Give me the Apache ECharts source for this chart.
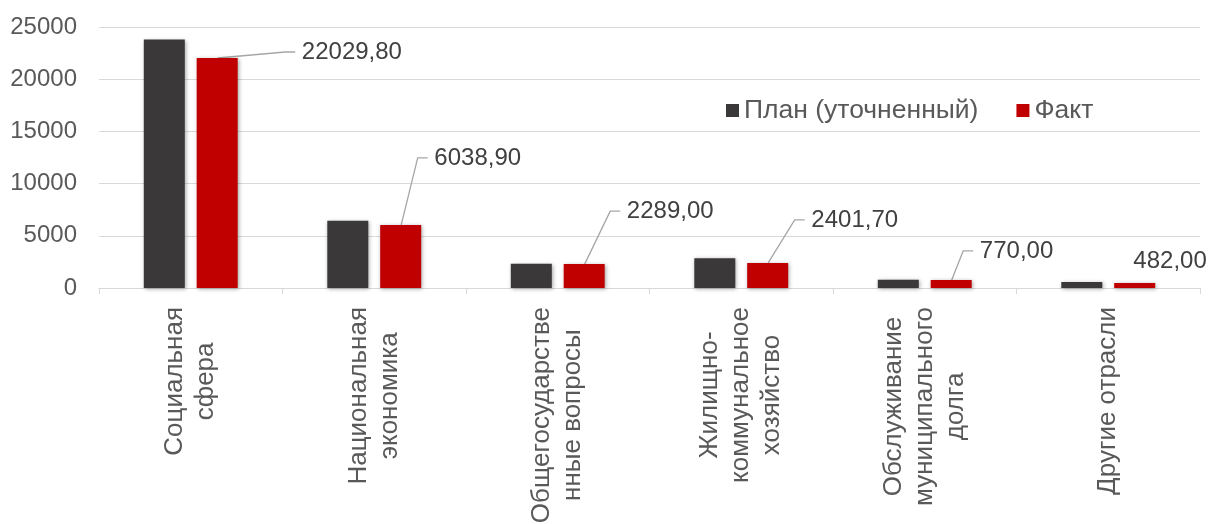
<!DOCTYPE html>
<html>
<head>
<meta charset="utf-8">
<script src="https://cdn.jsdelivr.net/npm/echarts@6/dist/echarts.min.js"></script>
<style>
  html, body { margin: 0; padding: 0; background: #ffffff; }
  #chart { width: 1208px; height: 524px; }
</style>
</head>
<body>
<div id="chart"></div>
<script>
const categories = [
  'Социальная\nсфера',
  'Национальная\nэкономика',
  'Общегосударстве\nнные вопросы',
  'Жилищно-\nкоммунальное\nхозяйство',
  'Обслуживание\nмуниципального\nдолга',
  'Другие отрасли'
];
const seriesNames = ['План (уточненный)', 'Факт'];
const planValues = [23800, 6450, 2320, 2850, 790, 580];
const factValues = [22029.8, 6038.9, 2289.0, 2401.7, 770.0, 482.0];
const yTicks = { min: 0, max: 25000, interval: 5000 };

const FONT = '"Liberation Sans", Arial, sans-serif';
const TEXT = '#595959';
// label box offsets relative to the top centre of each "Факт" bar (layout only)
const labelOffsets = [[78, -6], [27, -67], [36, -53], [37, -43], [22, -29], [-8, -22]];

const chart = echarts.init(document.getElementById('chart'), null, { renderer: 'canvas' });
const barShadow = { shadowBlur: 4, shadowColor: 'rgba(0,0,0,0.35)', shadowOffsetX: 1, shadowOffsetY: 1 };
const BAR_W = 41, BAR_GAP = '29%';

chart.setOption({
  animation: false,
  backgroundColor: '#ffffff',
  textStyle: { fontFamily: FONT },
  grid: { left: 99, right: 8, top: 27, bottom: 236, outerBoundsMode: 'none', containLabel: false },
  legend: {
    data: seriesNames,
    left: 721, top: 92,
    icon: 'rect', itemWidth: 13, itemHeight: 13, itemGap: 38,
    textStyle: { fontSize: 26.5, color: TEXT, fontFamily: FONT }
  },
  xAxis: [
    {
      type: 'category',
      data: categories,
      axisLine: { lineStyle: { color: '#D9D9D9', width: 1 } },
      axisTick: { show: true, length: 6, lineStyle: { color: '#D9D9D9' } },
      axisLabel: {
        interval: 0,
        rotate: 90,
        margin: 19,
        formatter: v => v.split('\n').map(s => '{c|' + s + '}').join('\n'),
        rich: { c: { align: 'center', fontSize: 26, lineHeight: 31, color: TEXT, fontFamily: FONT } }
      }
    },
    { type: 'category', data: categories, show: false }
  ],
  yAxis: {
    type: 'value',
    min: yTicks.min, max: yTicks.max, interval: yTicks.interval,
    axisLine: { show: false },
    axisTick: { show: false },
    axisLabel: { fontSize: 24, color: TEXT, margin: 22, fontFamily: FONT, formatter: v => String(v) },
    splitLine: { lineStyle: { color: '#D9D9D9', width: 1 } }
  },
  series: [
    {
      name: seriesNames[0],
      type: 'bar',
      data: planValues,
      barWidth: BAR_W,
      barGap: BAR_GAP,
      itemStyle: Object.assign({ color: '#3A3838' }, barShadow)
    },
    {
      name: seriesNames[1],
      type: 'bar',
      data: factValues,
      barWidth: BAR_W,
      barGap: BAR_GAP,
      itemStyle: Object.assign({ color: '#C00000' }, barShadow)
    },
    // transparent helper bars on a hidden copy of the category axis: they put the
    // "Факт" value labels' leader lines at the top centre of each red bar
    {
      name: 'helper-plan',
      type: 'bar',
      xAxisIndex: 1,
      data: planValues,
      barWidth: BAR_W,
      barGap: BAR_GAP,
      silent: true,
      itemStyle: { color: 'rgba(0,0,0,0)' }
    },
    {
      name: 'helper-fact',
      type: 'bar',
      xAxisIndex: 1,
      data: factValues.map((v, i) => ({ value: v, labelLine: { show: i < factValues.length - 1 } })),
      barWidth: 1,
      silent: true,
      itemStyle: { color: 'rgba(0,0,0,0)' },
      label: {
        show: true,
        position: 'top',
        fontSize: 24,
        color: '#404040',
        fontFamily: FONT,
        formatter: p => ' ' + p.value.toFixed(2).replace('.', ',')
      },
      labelLine: { show: true, length2: 10, lineStyle: { color: '#A6A6A6', width: 1.3 } },
      labelLayout: function (p) {
        const o = labelOffsets[p.dataIndex];
        return {
          x: p.rect.x + p.rect.width / 2 + o[0],
          y: p.rect.y + o[1],
          align: 'left',
          verticalAlign: 'middle'
        };
      }
    }
  ]
});
</script>
</body>
</html>
